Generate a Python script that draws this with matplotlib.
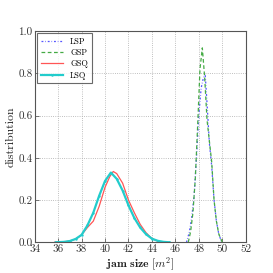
import matplotlib
matplotlib.use("Agg")
import matplotlib.pyplot as plt

plt.rcParams['font.family'] = 'serif'
plt.rcParams['font.serif'] = ['cmr10', 'DejaVu Serif']
plt.rcParams['mathtext.fontset'] = 'cm'
plt.rcParams['axes.formatter.use_mathtext'] = True

lsq_x = [35.8, 36.5, 37.0, 37.5, 38.0, 38.5, 39.0, 39.5, 40.0, 40.5, 41.0, 41.5, 42.0, 42.5, 43.0, 43.5, 44.0, 44.5, 45.0, 45.5]
lsq_y = [0.0, 0.002, 0.006, 0.016, 0.035, 0.08, 0.14, 0.22, 0.29, 0.33, 0.30, 0.245, 0.175, 0.115, 0.07, 0.038, 0.017, 0.007, 0.002, 0.0]

gsq_x = [35.7, 36.5, 37.0, 37.5, 38.0, 38.5, 39.0, 39.5, 40.0, 40.4, 40.7, 41.0, 41.5, 42.0, 42.5, 43.0, 43.5, 44.0, 44.5, 45.0]
gsq_y = [0.0, 0.002, 0.006, 0.015, 0.035, 0.07, 0.10, 0.17, 0.26, 0.31, 0.335, 0.325, 0.28, 0.20, 0.14, 0.085, 0.045, 0.018, 0.005, 0.0]

lsp_x = [46.95, 47.2, 47.4, 47.6, 47.8, 48.0, 48.2, 48.4, 48.55, 48.7, 48.9, 49.1, 49.3, 49.5, 49.7, 49.95]
lsp_y = [0.0, 0.05, 0.12, 0.22, 0.40, 0.60, 0.73, 0.78, 0.79, 0.66, 0.47, 0.36, 0.20, 0.10, 0.04, 0.0]

gsp_x = [47.1, 47.3, 47.5, 47.7, 47.9, 48.1, 48.3, 48.5, 48.7, 48.9, 49.1, 49.3, 49.5, 49.7, 50.0]
gsp_y = [0.0, 0.05, 0.14, 0.30, 0.55, 0.82, 0.92, 0.78, 0.58, 0.48, 0.38, 0.20, 0.10, 0.04, 0.0]

xticks = [34, 36, 38, 40, 42, 44, 46, 48, 50, 52]
yticks = [0.0, 0.2, 0.4, 0.6, 0.8, 1.0]

fig = plt.figure(figsize=(2.73, 2.73), dpi=100)
ax = fig.add_axes([0.127, 0.1125, 0.773, 0.774])

ax.plot(lsp_x, lsp_y, color='#5555ff', linestyle='-.', lw=0.9, dashes=(1.5, 1.5, 0.5, 1.5), label='LSP')
ax.plot(gsp_x, gsp_y, color='#44aa44', linestyle='--', lw=0.9, dashes=(3, 2), label='GSP')
ax.plot(gsq_x, gsq_y, color='#ff5555', linestyle='-', lw=0.9, label='GSQ')
ax.plot(lsq_x, lsq_y, color='#22cccc', linestyle='-', lw=1.6, marker='.', markersize=1.5, label='LSQ')

ax.set_xlim(34, 52)
ax.set_ylim(0, 1.0)
ax.set_xticks(xticks)
ax.set_yticks(yticks)
ax.set_xticklabels([str(t) for t in xticks])
ax.set_yticklabels(['%.1f' % t for t in yticks])
ax.tick_params(labelsize=8, direction='in', length=3, width=0.5, pad=1.5, colors='#444444', labelcolor='#333333')
ax.grid(True, linestyle=':', color='#aaaaaa', lw=0.6)
for s in ax.spines.values():
    s.set_color('#555555')
    s.set_linewidth(0.8)

ax.set_xlabel(r'$\mathbf{jam\ size}\ [m^2]$', fontsize=8.5, labelpad=1, color='#222222')
ax.set_ylabel('distribution', fontsize=8.5, labelpad=2, color='#222222')

leg = ax.legend(loc='upper left', fontsize=6, frameon=True, fancybox=False,
                handlelength=2.6, borderpad=0.45, labelspacing=0.35, borderaxespad=0.3,
                handletextpad=0.9)
leg.get_frame().set_edgecolor('#444444')
leg.get_frame().set_linewidth(0.8)

fig.savefig('out.png', dpi=100)
